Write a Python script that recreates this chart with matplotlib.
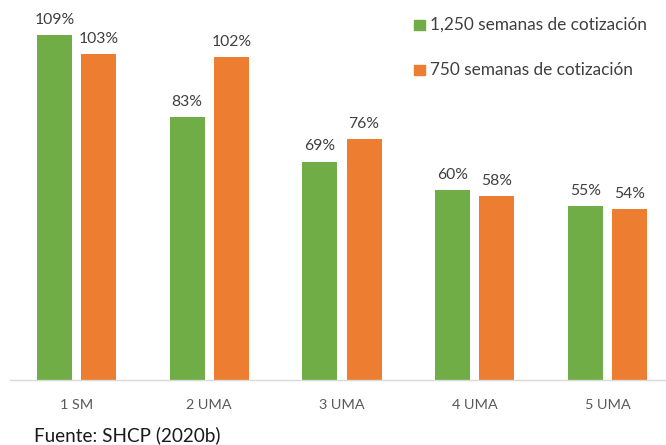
import matplotlib
matplotlib.use("Agg")
import matplotlib.pyplot as plt
from matplotlib.patches import Rectangle
import numpy as np

categories = ["1 SM", "2 UMA", "3 UMA", "4 UMA", "5 UMA"]
series_names = ["1,250 semanas de cotización", "750 semanas de cotización"]
semanas_1250 = [109, 83, 69, 60, 55]
semanas_750 = [103, 102, 76, 58, 54]
colors = ["#70AD47", "#ED7D31"]

plt.rcParams["font.family"] = ["Lato", "DejaVu Sans"]

W, H = 666, 445
fig = plt.figure(figsize=(W / 100, H / 100), dpi=100)

# plot area: baseline at y=380px, category spacing ~133px
ax = fig.add_axes([10 / W, 65 / H, 664 / W, 380 / H])
ax.set_xlim(-0.5, 4.5)
ax.set_ylim(0, 120)

x = np.arange(len(categories))
width = 0.263
offset = 0.166
for vals, c, dx in zip([semanas_1250, semanas_750], colors, [-offset, offset]):
    bars = ax.bar(x + dx, vals, width, color=c)
    for b, v in zip(bars, vals):
        ax.text(b.get_x() + b.get_width() / 2, v + 2.6, f"{v}%",
                ha="center", va="bottom", fontsize=11.3, color="#404040")

for s in ["top", "right", "left"]:
    ax.spines[s].set_visible(False)
ax.spines["bottom"].set_color("#D9D9D9")
ax.spines["bottom"].set_linewidth(1.0)
ax.set_yticks([])
ax.set_xticks(x)
ax.set_xticklabels(categories, fontsize=10.4, color="#595959")
ax.tick_params(axis="x", length=0, pad=14)

# legend
leg_y = [25, 70]
for name, c, yc in zip(series_names, colors, leg_y):
    fig.patches.append(Rectangle((414 / W, 1 - (yc + 5) / H), 11 / W, 10 / H,
                                 transform=fig.transFigure, color=c))
    fig.text(430 / W, 1 - yc / H, name, fontsize=12.4, color="#404040",
             va="center", ha="left")

fig.text(34 / W, 1 - 435 / H, "Fuente: SHCP (2020b)", fontsize=13.6,
         color="#1a1a1a", va="center", ha="left")

fig.savefig("out.png", dpi=100)
